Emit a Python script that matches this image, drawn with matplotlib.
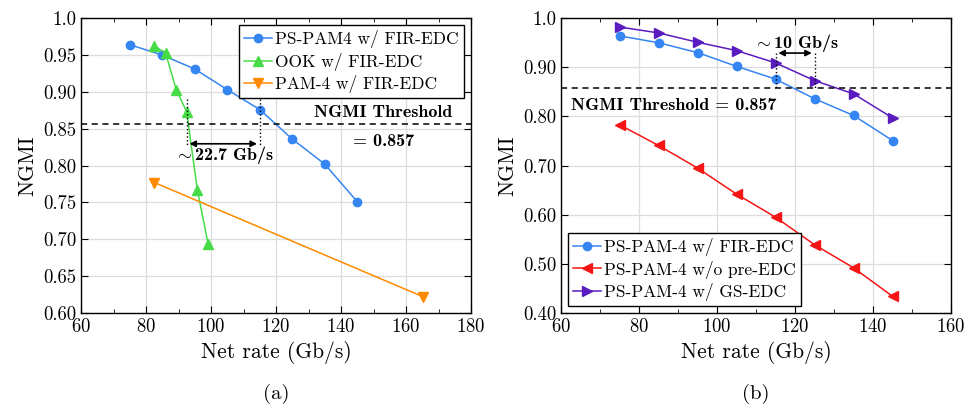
import matplotlib
matplotlib.use('Agg')
import matplotlib.pyplot as plt
from matplotlib.ticker import MultipleLocator, FixedLocator, FixedFormatter

plt.rcParams['font.family'] = 'serif'
plt.rcParams['font.serif'] = ['cmr10']
plt.rcParams['mathtext.fontset'] = 'cm'
plt.rcParams['axes.formatter.use_mathtext'] = True

# ---- data, panel (a)
rate_ps = [75, 85, 95, 105, 115, 125, 135, 145]
ngmi_ps = [0.964, 0.950, 0.931, 0.903, 0.876, 0.836, 0.802, 0.751]
rate_ook = [82.6, 86.0, 89.3, 92.5, 95.8, 99.1]
ngmi_ook = [0.962, 0.953, 0.903, 0.873, 0.767, 0.694]
rate_pam = [82.6, 165.3]
ngmi_pam = [0.777, 0.622]
yticks_a = [0.60, 0.65, 0.70, 0.75, 0.80, 0.85, 0.90, 0.95, 1.0]
ylabels_a = ['0.60', '0.65', '0.70', '0.75', '0.80', '0.85', '0.90', '0.95', '1.0']

# ---- data, panel (b)
rate_b = [75, 85, 95, 105, 115, 125, 135, 145]
ngmi_fir = [0.964, 0.950, 0.930, 0.902, 0.876, 0.836, 0.802, 0.751]
ngmi_nopre = [0.783, 0.741, 0.695, 0.642, 0.595, 0.539, 0.492, 0.434]
ngmi_gs = [0.982, 0.970, 0.951, 0.934, 0.909, 0.873, 0.846, 0.797]
yticks_b = [0.40, 0.50, 0.60, 0.70, 0.80, 0.90, 1.0]
ylabels_b = ['0.40', '0.50', '0.60', '0.70', '0.80', '0.90', '1.0']

threshold = 0.857

c_blue = '#3585f2'
c_green = '#47dc47'
c_orange = '#ff8a00'
c_red = '#f51515'
c_purple = '#5a1cbf'

fig = plt.figure(figsize=(9.69, 4.13), dpi=100)
ax1 = fig.add_axes([0.0836, 0.242, 0.4025, 0.714])
ax2 = fig.add_axes([0.579, 0.242, 0.4025, 0.714])


def style(ax, xlim, ylim, yticks, ylabels):
    ax.set_xlim(*xlim)
    ax.set_ylim(*ylim)
    ax.xaxis.set_major_locator(MultipleLocator(20))
    ax.xaxis.set_minor_locator(MultipleLocator(10))
    ax.yaxis.set_major_locator(FixedLocator(yticks))
    ax.yaxis.set_major_formatter(FixedFormatter(ylabels))
    ax.tick_params(which='both', direction='in', top=True, right=True, labelsize=13.5)
    ax.tick_params(which='major', length=5)
    ax.tick_params(which='minor', length=3)
    ax.grid(True, which='major', color='#dddddd', linewidth=0.9)
    ax.set_axisbelow(True)
    for s in ax.spines.values():
        s.set_linewidth(1.0)
    ax.set_xlabel('Net rate (Gb/s)', fontsize=15.5, labelpad=4)
    ax.set_ylabel('NGMI', fontsize=15.5, labelpad=4)


ms = 6
mt = 6.5
# ---- panel (a)
ax1.plot(rate_ps, ngmi_ps, '-o', color=c_blue, ms=ms, lw=1.1, label='PS-PAM4 w/ FIR-EDC')
ax1.plot(rate_ook, ngmi_ook, '-^', color=c_green, ms=mt, lw=1.1, label='OOK w/ FIR-EDC')
ax1.plot(rate_pam, ngmi_pam, '-v', color=c_orange, ms=mt, lw=1.1, label='PAM-4 w/ FIR-EDC')
ax1.axhline(threshold, color='k', ls=(0, (4, 3)), lw=1.1)
for xv in (92.5, 115):
    ax1.plot([xv, xv], [0.891, 0.826], color='k', ls=':', lw=1.0)
ax1.annotate('', xy=(92.5, 0.8296), xytext=(115, 0.8296),
             arrowprops=dict(arrowstyle='<|-|>', color='k', lw=1.2, mutation_scale=9))
ax1.text(104, 0.8147, r'$\sim$22.7 Gb/s', family='cmb10', fontsize=13, ha='center', va='center')
ax1.text(153, 0.872, 'NGMI Threshold', family='cmb10', fontsize=13, ha='center', va='center')
ax1.text(153, 0.833, '= 0.857', family='cmb10', fontsize=13, ha='center', va='center')
style(ax1, (60, 180), (0.60, 1.0), yticks_a, ylabels_a)
ax1.legend(loc='upper right', fontsize=12.5, frameon=True, fancybox=False, edgecolor='k',
           framealpha=1, borderpad=0.3, handlelength=1.6, handletextpad=0.2,
           labelspacing=0.25, borderaxespad=0.4).get_frame().set_linewidth(1.0)

# ---- panel (b)
ax2.plot(rate_b, ngmi_fir, '-o', color=c_blue, ms=ms, lw=1.1, label='PS-PAM-4 w/ FIR-EDC')
ax2.plot(rate_b, ngmi_nopre, '-<', color=c_red, ms=mt, lw=1.1, label='PS-PAM-4 w/o pre-EDC')
ax2.plot(rate_b, ngmi_gs, '->', color=c_purple, ms=mt, lw=1.1, label='PS-PAM-4 w/ GS-EDC')
ax2.axhline(threshold, color='k', ls=(0, (4, 3)), lw=1.1)
for xv in (115, 125):
    ax2.plot([xv, xv], [0.929, 0.857], color='k', ls=':', lw=1.0)
ax2.annotate('', xy=(115, 0.929), xytext=(125, 0.929),
             arrowprops=dict(arrowstyle='<|-|>', color='k', lw=1.2, mutation_scale=9))
ax2.text(120.3, 0.949, r'$\sim$10 Gb/s', family='cmb10', fontsize=13, ha='center', va='center')
ax2.text(62.6, 0.823, 'NGMI Threshold = 0.857', family='cmb10', fontsize=13, ha='left', va='center')
style(ax2, (60, 160), (0.40, 1.0), yticks_b, ylabels_b)
ax2.legend(loc='lower left', fontsize=12.5, frameon=True, fancybox=False, edgecolor='k',
           framealpha=1, borderpad=0.3, handlelength=1.6, handletextpad=0.2,
           labelspacing=0.25, borderaxespad=0.4).get_frame().set_linewidth(1.0)

fig.text(0.0836 + 0.4025 / 2, 0.045, '(a)', fontsize=15, ha='center', va='center')
fig.text(0.579 + 0.4025 / 2, 0.045, '(b)', fontsize=15, ha='center', va='center')

fig.savefig('out.png', dpi=100)
